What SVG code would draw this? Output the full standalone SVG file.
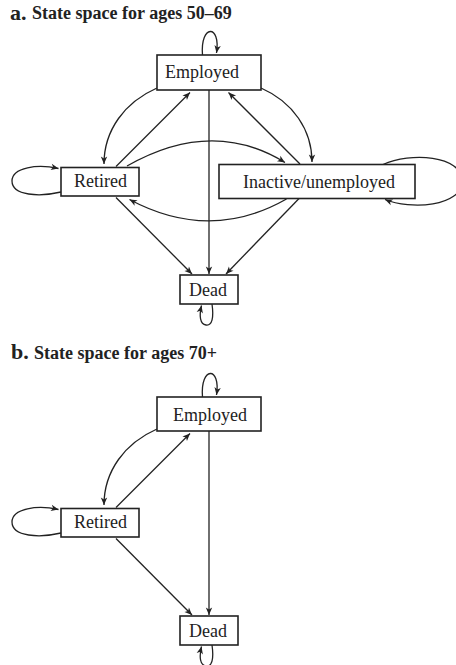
<svg xmlns="http://www.w3.org/2000/svg" width="456" height="665" viewBox="0 0 456 665">
<style>
  .bg{fill:#fff}
  .box{fill:#fff;stroke:#222;stroke-width:1.6}
  .lbl{font-family:"Liberation Serif","Times New Roman",serif;font-size:18px;fill:#222}
  .ttl{font-family:"Liberation Serif","Times New Roman",serif;font-weight:bold;font-size:18px;fill:#222}
  .big{font-family:"Liberation Serif","Times New Roman",serif;font-weight:bold;font-size:22px;fill:#222}
  .edge{fill:none;stroke:#222;stroke-width:1.3}
  .arr{marker-end:url(#ah)}
</style>
<defs>
  <marker id="ah" viewBox="-8 -4 9 8" markerWidth="9" markerHeight="8" refX="0" refY="0" orient="auto" markerUnits="userSpaceOnUse">
    <path d="M0,0 L-7.5,-3.2 L-5.5,0 L-7.5,3.2 Z" fill="#222"/>
  </marker>
</defs>
<rect class="bg" x="0" y="0" width="456" height="665"/>

<g id="title-a">
  <text class="big" x="10" y="19.5">a.</text>
  <text class="ttl" x="32" y="18.5">State space for ages 50–69</text>
</g>

<g id="connectors-a">
  <path class="edge arr" d="M202.5,55 C200,24 221,24 216.5,53"/>
  <path class="edge arr" d="M61,192 C40,197 12,196 12,181 C12,167 38,164 58.5,168.5"/>
  <path class="edge arr" d="M383,164.5 C410,152 462,155 462,181 C462,207 410,210 385,199.5"/>
  <path class="edge arr" d="M212,304 C214,318 212,326 206,325 C200,324 199,316 201.5,305.5"/>
  <path class="edge arr" d="M157,88 C125,102 104,130 104,164"/>
  <path class="edge arr" d="M116,166.5 L190,92.5"/>
  <path class="edge arr" d="M209,90 L209,274"/>
  <path class="edge arr" d="M300,164 L228.5,92.5"/>
  <path class="edge arr" d="M261,88 C293,102 312,130 312,162"/>
  <path class="edge arr" d="M127,166 Q212,117.5 285,162.5"/>
  <path class="edge arr" d="M286.5,199 Q210,242.5 129.5,199.5"/>
  <path class="edge arr" d="M116,197.5 L192,274"/>
  <path class="edge arr" d="M300,197.5 L226,274"/>
</g>

<g id="a-employed">
  <rect class="box" x="157" y="55" width="104" height="35"/>
  <text class="lbl" x="165" y="78">Employed</text>
</g>
<g id="a-retired">
  <rect class="box" x="61" y="167.5" width="78" height="28.5"/>
  <text class="lbl" x="74" y="187">Retired</text>
</g>
<g id="a-inactive">
  <rect class="box" x="219" y="164.5" width="196" height="34"/>
  <text class="lbl" x="243" y="187.5">Inactive/unemployed</text>
</g>
<g id="a-dead">
  <rect class="box" x="180" y="275" width="58" height="29"/>
  <text class="lbl" x="189" y="296">Dead</text>
</g>

<g id="title-b">
  <text class="big" x="11" y="358.5">b.</text>
  <text class="ttl" x="34" y="358.5">State space for ages 70+</text>
</g>

<g id="connectors-b">
  <path class="edge arr" d="M202.5,397 C200,366 221,366 216.5,395"/>
  <path class="edge arr" d="M61,533 C40,538 12,537 12,522 C12,508 38,505 58.5,509.5"/>
  <path class="edge arr" d="M212,645 C214,659 212,667 206,666 C200,665 199,657 201.5,646.5"/>
  <path class="edge arr" d="M157,429 C125,443 104,471 104,505"/>
  <path class="edge arr" d="M116,507.5 L190,433.5"/>
  <path class="edge arr" d="M209,431 L209,615"/>
  <path class="edge arr" d="M116,538.5 L192,615"/>
</g>

<g id="b-employed">
  <rect class="box" x="157" y="397" width="104" height="34"/>
  <text class="lbl" x="173" y="420.5">Employed</text>
</g>
<g id="b-retired">
  <rect class="box" x="61" y="508.5" width="78" height="28.5"/>
  <text class="lbl" x="74" y="528">Retired</text>
</g>
<g id="b-dead">
  <rect class="box" x="180" y="616" width="58" height="29"/>
  <text class="lbl" x="189" y="637">Dead</text>
</g>
</svg>
